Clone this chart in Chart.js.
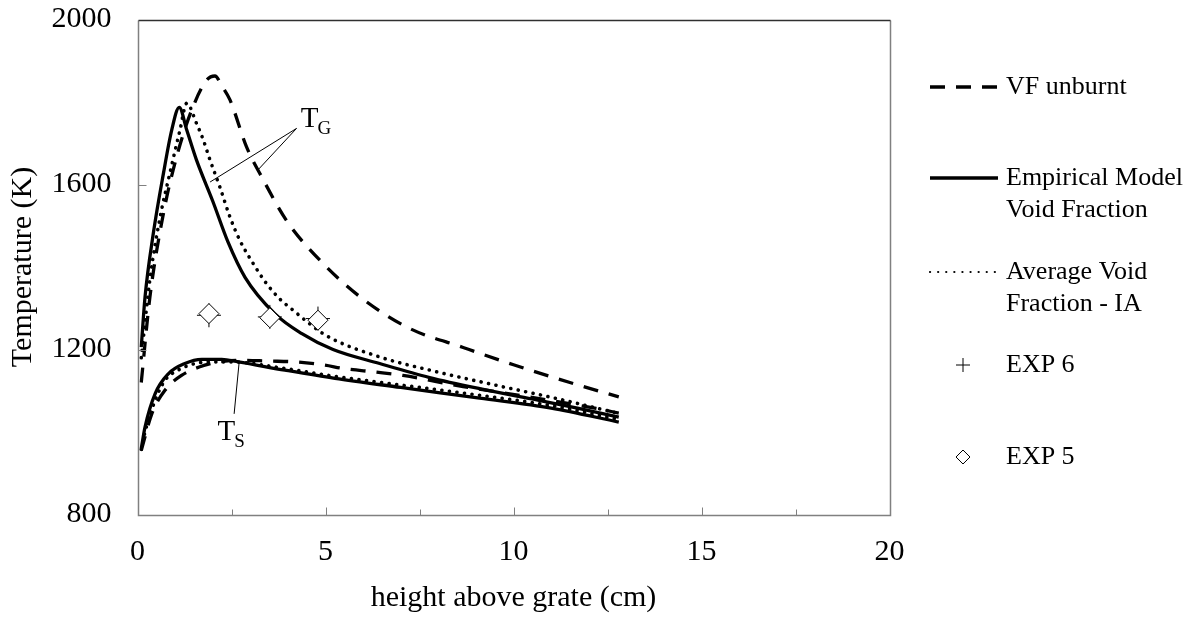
<!DOCTYPE html>
<html>
<head>
<meta charset="utf-8">
<script src="https://cdn.jsdelivr.net/npm/chart.js@4.4.1/dist/chart.umd.min.js"></script>
<style>
    html, body { margin: 0; padding: 0; background: #fff; }
    canvas { display: block; }
</style>
</head>
<body>
<canvas id="grafica" width="1196" height="619"></canvas>
<script>
// gas temperature (T_G) and solid temperature (T_S), height in cm
const vfGasX  = [0.1, 0.33, 0.69, 1.04, 1.44, 1.84, 2.06, 2.25, 2.46, 2.9, 3.3, 3.96, 4.93, 6.0, 7.24, 8.66, 10.0, 11.5, 12.8];
const vfGasT  = [1120, 1327, 1530, 1667, 1780, 1853, 1863, 1838, 1805, 1691, 1619, 1513, 1409, 1322, 1251, 1205, 1163, 1120, 1085];
const vfSolX  = [0.1, 0.38, 0.73, 1.17, 1.79, 2.33, 2.77, 3.48, 4.19, 4.98, 5.47, 6.36, 7.06, 8.66, 10.43, 12.2, 12.8];
const vfSolT  = [955, 1044, 1101, 1137, 1162, 1172, 1174, 1172, 1170, 1162, 1154, 1145, 1137, 1110, 1085, 1057, 1046];

const empGasX = [0.1, 0.2, 0.42, 0.69, 0.91, 1.11, 1.31, 1.57, 2.0, 2.4, 2.86, 3.65, 4.36, 5.2, 6.44, 7.77, 9.1, 10.5, 11.7, 12.8];
const empGasT = [1206, 1327, 1481, 1627, 1732, 1787, 1732, 1659, 1560, 1462, 1375, 1287, 1239, 1200, 1166, 1132, 1105, 1080, 1058, 1036];
const empSolX = [0.1, 0.2, 0.47, 0.82, 1.26, 1.71, 2.24, 2.68, 3.92, 5.25, 7.0, 9.1, 11.0, 12.8];
const empSolT = [960, 1012, 1093, 1141, 1166, 1176, 1176, 1170, 1150, 1130, 1108, 1082, 1058, 1024];

const avgGasX = [0.1, 0.33, 0.6, 0.86, 1.13, 1.31, 1.57, 1.75, 1.93, 2.19, 2.46, 2.72, 3.08, 3.43, 3.79, 4.1, 5.0, 6.44, 7.77, 9.55, 11.2, 12.8];
const avgGasT = [1180, 1370, 1520, 1627, 1732, 1797, 1748, 1708, 1659, 1594, 1521, 1465, 1408, 1360, 1322, 1298, 1235, 1182, 1150, 1113, 1080, 1045];
const avgSolX = [0.1, 0.2, 0.47, 0.73, 1.08, 1.53, 1.97, 2.5, 3.92, 5.25, 7.0, 9.1, 11.0, 12.8];
const avgSolT = [958, 1000, 1077, 1125, 1150, 1166, 1170, 1170, 1154, 1135, 1114, 1089, 1064, 1030];

const exp6X = [1.9, 3.52, 4.8];
const exp6T = [1283, 1279, 1275];
const exp5X = [1.9, 3.52, 4.8];
const exp5T = [1287, 1277, 1271];

const xTicks = [0, 5, 10, 15, 20];
const yTicks = [800, 1200, 1600, 2000];
const legendTexts = [["VF unburnt"], ["Empirical Model", "Void Fraction"], ["Average Void", "Fraction - IA"], ["EXP 6"], ["EXP 5"]];

const FONT = "'Liberation Serif', 'Times New Roman', serif";

function puntos(xs, ys) {
    return xs.map((x, i) => ({ x: x, y: ys[i] }));
}

function linea(label, xs, ys, dash, cap, ancho) {
    return {
        label: label,
        data: puntos(xs, ys),
        showLine: true,
        borderColor: '#000',
        borderWidth: ancho,
        borderDash: dash,
        borderCapStyle: cap,
        pointRadius: 0,
        cubicInterpolationMode: 'monotone',
        fill: false
    };
}

const DASH = [15, 11];
const DOT = [0.1, 7.5];

// ticks inward, frame, T_G / T_S notes and the legend on the right
const extras = {
    id: 'extras',
    afterDraw(chart) {
        const ctx = chart.ctx;
        const a = chart.chartArea;
        const xs = chart.scales.x, ys = chart.scales.y;
        const L = Math.round(a.left) + 0.5, R = Math.round(a.right) + 0.5;
        const T = Math.round(a.top) + 0.5, B = Math.round(a.bottom) + 0.5;
        ctx.save();
        ctx.setLineDash([]);
        ctx.lineWidth = 1.5;
        ctx.strokeStyle = '#808080';
        ctx.beginPath();
        ctx.moveTo(L, T); ctx.lineTo(L, B); ctx.lineTo(R, B); ctx.lineTo(R, T);
        ctx.stroke();
        ctx.strokeStyle = '#303030';
        ctx.beginPath(); ctx.moveTo(L, T); ctx.lineTo(R, T); ctx.stroke();

        ctx.strokeStyle = '#808080';
        ctx.lineWidth = 1;
        for (let v = 2.5; v < 20; v += 2.5) {
            const px = Math.round(xs.getPixelForValue(v)) + 0.5;
            const len = (v % 5 === 0) ? 8 : 6;
            ctx.beginPath(); ctx.moveTo(px, B); ctx.lineTo(px, B - len); ctx.stroke();
        }
        yTicks.slice(1, -1).forEach(v => {
            const py = Math.round(ys.getPixelForValue(v)) + 0.5;
            ctx.beginPath(); ctx.moveTo(L, py); ctx.lineTo(L + 8, py); ctx.stroke();
        });

        // notes
        const P = (x, y) => [xs.getPixelForValue(x), ys.getPixelForValue(y)];
        ctx.strokeStyle = '#000';
        ctx.lineWidth = 1;
        const g0 = P(4.23, 1736), g1 = P(1.93, 1606), g2 = P(3.19, 1634);
        ctx.beginPath();
        ctx.moveTo(g0[0], g0[1]); ctx.lineTo(g1[0], g1[1]);
        ctx.moveTo(g0[0], g0[1]); ctx.lineTo(g2[0], g2[1]);
        const s0 = P(2.57, 1044), s1 = P(2.70, 1166);
        ctx.moveTo(s0[0], s0[1]); ctx.lineTo(s1[0], s1[1]);
        ctx.stroke();

        ctx.fillStyle = '#000';
        ctx.textBaseline = 'alphabetic';
        ctx.textAlign = 'left';
        const tg = P(4.345, 1739);
        ctx.font = '29px ' + FONT;
        ctx.fillText('T', tg[0], tg[1]);
        let w = ctx.measureText('T').width;
        ctx.font = '19px ' + FONT;
        ctx.fillText('G', tg[0] + w - 1, tg[1] + 7);
        const ts = P(2.13, 980);
        ctx.font = '29px ' + FONT;
        ctx.fillText('T', ts[0], ts[1]);
        w = ctx.measureText('T').width;
        ctx.font = '19px ' + FONT;
        ctx.fillText('S', ts[0] + w - 1, ts[1] + 7);

        // legend
        const x0 = 930, x1 = 998, tx = 1006;
        const rows = [87, 178, 272, 365, 457];
        ctx.font = '26px ' + FONT;
        ctx.textBaseline = 'middle';
        rows.forEach((y, i) => {
            legendTexts[i].forEach((t, j) => ctx.fillText(t, tx, y + j * 32));
        });
        ctx.lineWidth = 3.3;
        ctx.setLineDash(DASH);
        ctx.lineCap = 'butt';
        ctx.beginPath(); ctx.moveTo(x0, rows[0]); ctx.lineTo(x1, rows[0]); ctx.stroke();
        ctx.setLineDash([]);
        ctx.beginPath(); ctx.moveTo(x0, rows[1]); ctx.lineTo(x1, rows[1]); ctx.stroke();
        ctx.lineWidth = 2.2;
        ctx.lineCap = 'round';
        ctx.setLineDash([0.1, 8]);
        ctx.beginPath(); ctx.moveTo(x0, rows[2]); ctx.lineTo(x1, rows[2]); ctx.stroke();
        ctx.setLineDash([]);
        ctx.lineCap = 'butt';
        ctx.lineWidth = 1;
        const cx = 963;
        ctx.beginPath();
        ctx.moveTo(cx - 7, rows[3]); ctx.lineTo(cx + 7, rows[3]);
        ctx.moveTo(cx, rows[3] - 7); ctx.lineTo(cx, rows[3] + 7);
        ctx.stroke();
        ctx.beginPath();
        ctx.moveTo(cx, rows[4] - 7); ctx.lineTo(cx + 7, rows[4]);
        ctx.lineTo(cx, rows[4] + 7); ctx.lineTo(cx - 7, rows[4]); ctx.closePath();
        ctx.stroke();
        ctx.restore();
    }
};

const ctx = document.getElementById("grafica").getContext("2d");

new Chart(ctx, {
    type: 'scatter',
    data: {
        datasets: [
            {
                label: 'EXP 5',
                data: puntos(exp5X, exp5T),
                pointStyle: 'rectRot',
                pointRadius: 10,
                pointBackgroundColor: '#fff',
                pointBorderColor: '#000',
                pointBorderWidth: 1,
                showLine: false
            },
            {
                label: 'EXP 6',
                data: puntos(exp6X, exp6T),
                pointStyle: 'cross',
                pointRadius: 12,
                pointBorderColor: '#000',
                pointBorderWidth: 1,
                showLine: false
            },
            linea('VF unburnt', vfGasX, vfGasT, DASH, 'butt', 3.3),
            linea('VF unburnt TS', vfSolX, vfSolT, DASH, 'butt', 3.3),
            linea('Empirical Model Void Fraction', empGasX, empGasT, [], 'butt', 3.3),
            linea('Empirical TS', empSolX, empSolT, [], 'butt', 3.3),
            linea('Average Void Fraction - IA', avgGasX, avgGasT, DOT, 'round', 3.6),
            linea('Average TS', avgSolX, avgSolT, DOT, 'round', 3.6)
        ]
    },
    options: {
        responsive: false,
        animation: false,
        devicePixelRatio: 1,
        layout: { padding: { top: 19.5, right: 306.5, left: 0, bottom: 0 } },
        plugins: {
            legend: { display: false },
            tooltip: { enabled: false }
        },
        scales: {
            x: {
                type: 'linear',
                min: 0,
                max: 20,
                afterFit: s => { s.height = 104.5; s.paddingLeft = 0; s.paddingRight = 0; },
                afterBuildTicks: s => { s.ticks = xTicks.map(v => ({ value: v })); },
                grid: { display: false, drawTicks: false },
                border: { display: false },
                ticks: { color: '#000', font: { family: FONT, size: 30 }, padding: 20, maxRotation: 0, callback: v => String(v) },
                title: {
                    display: true,
                    text: 'height above grate (cm)',
                    color: '#000',
                    font: { family: FONT, size: 30 },
                    padding: { top: 0, bottom: 3 }
                }
            },
            y: {
                type: 'linear',
                min: 800,
                max: 2000,
                afterFit: s => { s.width = 137.5; s.paddingTop = 0; s.paddingBottom = 0; },
                afterBuildTicks: s => { s.ticks = yTicks.map(v => ({ value: v })); },
                grid: { display: false, drawTicks: false },
                border: { display: false },
                ticks: { color: '#000', font: { family: FONT, size: 30 }, padding: 26, callback: v => String(v) },
                title: {
                    display: true,
                    text: 'Temperature (K)',
                    color: '#000',
                    font: { family: FONT, size: 30 },
                    padding: { top: 5, bottom: 0 }
                }
            }
        }
    },
    plugins: [extras]
});
</script>
</body>
</html>
